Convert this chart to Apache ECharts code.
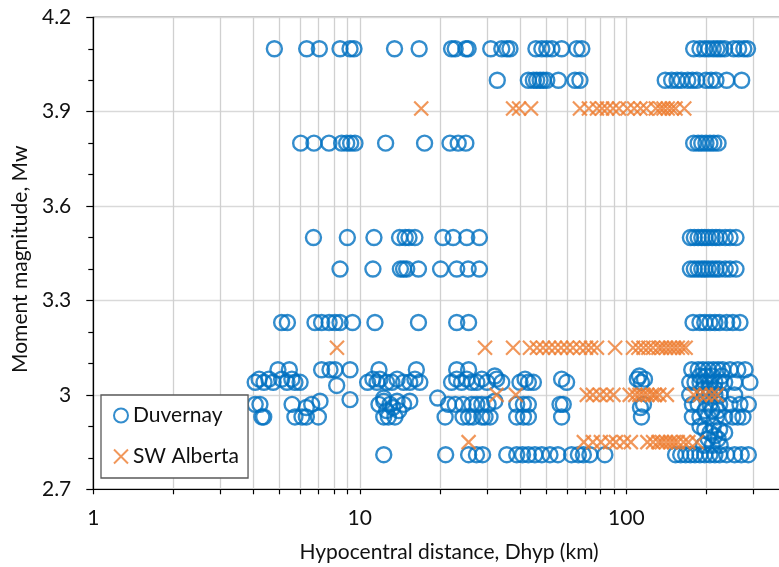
<!DOCTYPE html>
<html>
<head>
<meta charset="utf-8">
<script src="https://cdn.jsdelivr.net/npm/echarts@6/dist/echarts.min.js"></script>
<style>
  html, body { margin: 0; padding: 0; background: #fff; }
  #chart { width: 779px; height: 567px; }
</style>
</head>
<body>
<div id="chart"></div>
<script>
// Hypocentral distance (km) vs moment magnitude, two event groups.

// Duvernay events, [Dhyp km, Mw]
const duvernayUpper = [
  [4.78,4.1],[6.32,4.1],[7.05,4.1],[8.43,4.1],[9.19,4.1],[9.51,4.1],[13.5,4.1],[16.7,4.1],
  [22.1,4.1],[22.8,4.1],[25.0,4.1],[25.5,4.1],[31.0,4.1],[34.1,4.1],[35.6,4.1],[36.6,4.1],
  [45.8,4.1],[48.2,4.1],[50.3,4.1],[52.6,4.1],[57.2,4.1],[65.2,4.1],[68.1,4.1],
  [179,4.1],[189,4.1],[197,4.1],[204,4.1],[212,4.1],[219,4.1],[226,4.1],[234,4.1],
  [253,4.1],[264,4.1],[276,4.1],[285,4.1],
  [32.8,4.0],[42.9,4.0],[44.8,4.0],[46.1,4.0],[47.5,4.0],[48.8,4.0],[50.3,4.0],[55.6,4.0],
  [64.2,4.0],[67.0,4.0],
  [140,4.0],[148,4.0],[155,4.0],[161,4.0],[170,4.0],[177,4.0],[184,4.0],[199,4.0],
  [208,4.0],[217,4.0],[238,4.0],[271,4.0],
  [6.00,3.8],[6.73,3.8],[7.66,3.8],[8.55,3.8],[8.93,3.8],[9.24,3.8],[9.59,3.8],[12.5,3.8],
  [17.5,3.8],[21.8,3.8],[23.4,3.8],[25.0,3.8],
  [179,3.8],[186,3.8],[192,3.8],[199,3.8],[206,3.8],[213,3.8],[221,3.8]
];

const duvernayMiddle = [
  [6.70,3.5],[8.98,3.5],[11.3,3.5],[14.1,3.5],[14.8,3.5],[15.3,3.5],[16.1,3.5],[20.5,3.5],
  [22.4,3.5],[25.2,3.5],[28.1,3.5],
  [174,3.5],[180,3.5],[186,3.5],[192,3.5],[197,3.5],[203,3.5],[210,3.5],[217,3.5],
  [224,3.5],[235,3.5],[245,3.5],[258,3.5],
  [8.43,3.4],[11.2,3.4],[14.2,3.4],[14.6,3.4],[15.0,3.4],[16.6,3.4],[20.1,3.4],[23.1,3.4],
  [25.5,3.4],[28.1,3.4],
  [174,3.4],[180,3.4],[186,3.4],[192,3.4],[197,3.4],[203,3.4],[210,3.4],[217,3.4],
  [224,3.4],[235,3.4],[245,3.4],[258,3.4],
  [5.09,3.23],[5.35,3.23],[6.79,3.23],[7.19,3.23],[7.67,3.23],[8.07,3.23],[8.43,3.23],
  [9.39,3.23],[11.4,3.23],[16.6,3.23],[23.1,3.23],[25.6,3.23],
  [178,3.23],[189,3.23],[197,3.23],[206,3.23],[215,3.23],[224,3.23],[238,3.23],[251,3.23],[267,3.23]
];

const duvernayLowNear = [
  [4.93,3.08],[5.44,3.08],[7.19,3.08],[7.73,3.08],[8.07,3.08],[9.19,3.08],
  [4.05,3.04],[4.19,3.05],[4.37,3.04],[4.56,3.05],[4.73,3.04],[5.09,3.05],[5.33,3.04],
  [5.56,3.05],[5.71,3.04],[5.97,3.04],[8.19,3.03],
  [4.05,2.97],[4.22,2.97],[5.57,2.97],[6.30,2.96],[6.60,2.97],[7.09,2.98],[9.19,2.985],
  [4.29,2.93],[4.36,2.93],[5.71,2.93],[6.07,2.93],[6.30,2.93],[6.99,2.93],
  [11.8,3.08],[16.3,3.08],
  [10.7,3.04],[11.2,3.05],[11.6,3.04],[11.9,3.05],[12.6,3.04],[13.2,3.04],[13.8,3.05],
  [14.6,3.04],[15.4,3.04],[16.1,3.05],[16.8,3.04],
  [11.8,2.97],[12.3,2.98],[12.98,2.97],[13.8,2.98],[14.6,2.97],[15.4,2.98],[12.3,2.99],
  [13.3,2.96],[12.6,2.95],[14.0,2.95],
  [12.3,2.93],[13.55,2.93],[12.8,2.93],
  [12.3,2.81]
];

const duvernayLowMid = [
  [23.1,3.08],[25.6,3.08],[32.1,3.06],
  [22.1,3.04],[23.1,3.05],[24.1,3.04],[25.2,3.05],[26.3,3.04],[27.5,3.04],[28.7,3.05],
  [30.0,3.04],[32.6,3.05],[34.1,3.04],[39.9,3.04],[41.7,3.05],[42.9,3.04],[44.8,3.04],
  [57.2,3.05],[59.7,3.04],
  [19.6,2.99],
  [21.5,2.97],[22.8,2.97],[24.4,2.97],[26.3,2.97],[27.5,2.97],[28.7,2.97],[30.3,2.97],
  [32.1,2.98],[38.8,2.97],[41.1,2.97],[42.9,2.97],[56.4,2.97],[58.0,2.97],
  [20.9,2.93],[24.4,2.93],[25.6,2.93],[26.6,2.93],[28.7,2.93],[29.5,2.93],[30.8,2.93],
  [38.8,2.93],[41.1,2.93],[42.9,2.93],[57.2,2.93],
  [21.0,2.81],[25.6,2.81],[27.4,2.81],[28.9,2.81],[35.6,2.81],[38.8,2.81],[40.8,2.81],
  [42.9,2.81],[45.4,2.81],[48.2,2.81],[51.7,2.81],[55.4,2.81],[62.3,2.81],[66.1,2.81],
  [69.0,2.81],[73.0,2.81],[83.1,2.81],
  [110,3.05],[114,3.04],[117,3.05],[112,3.06],[116,2.97],[114,2.93],[113,2.96]
];

const duvernayLowFar = [
  [176,3.08],[186,3.08],[194,3.08],[203,3.08],[212,3.08],[221,3.08],[230,3.08],[245,3.08],
  [262,3.08],[279,3.08],
  [189,3.06],[200,3.06],[210,3.06],[228,3.06],
  [173,3.04],[181,3.04],[189,3.04],[197,3.04],[206,3.04],[215,3.04],[224,3.04],[234,3.04],
  [255,3.04],[291,3.04],
  [195,3.02],[205,3.02],[215,3.02],
  [173,3.0],[197,3.0],[205,3.0],[215,3.0],[225,3.0],[255,3.0],
  [177,2.97],[186,2.97],[206,2.97],[224,2.97],[245,2.97],[267,2.97],[287,2.97],
  [197,2.95],[210,2.95],[221,2.95],
  [177,2.93],[189,2.93],[203,2.93],[218,2.93],[234,2.93],[251,2.93],[262,2.93],[274,2.93],
  [189,2.90],[212,2.90],[197,2.89],[224,2.89],[206,2.88],[234,2.88],[215,2.87],
  [203,2.86],[221,2.86],[195,2.84],[210,2.84],[225,2.84],
  [153,2.81],[160,2.81],[167,2.81],[174,2.81],[181,2.81],[189,2.81],[197,2.81],[206,2.81],
  [215,2.81],[224,2.81],[238,2.81],[255,2.81],[270,2.81],[287,2.81]
];

// SW Alberta events, [Dhyp km, Mw]
const albertaUpper = [
  [17.0,3.91],[37.6,3.91],[39.6,3.91],[43.9,3.91],[67.0,3.91],[72.4,3.91],[77.6,3.91],
  [81.1,3.91],[84.7,3.91],[89.2,3.91],[93.9,3.91],[101,3.91],[107,3.91],[113,3.91],
  [119,3.91],[129,3.91],[134,3.91],[138,3.91],[143,3.91],[148,3.91],[153,3.91],[165,3.91],
  [8.21,3.15],[29.5,3.15],[37.6,3.15],[43.5,3.15],[46.2,3.15],[48.7,3.15],[51.3,3.15],
  [54.0,3.15],[56.9,3.15],[59.9,3.15],[63.1,3.15],[67.0,3.15],[70.6,3.15],[73.8,3.15],
  [77.6,3.15],[90.8,3.15],[106,3.15],[111,3.15],[116,3.15],[121,3.15],[126,3.15],
  [132,3.15],[136,3.15],[141,3.15],[146,3.15],[151,3.15],[156,3.15],[162,3.15],[167,3.15]
];

const albertaLower = [
  [32.6,3.0],[38.5,3.0],[71.1,3.0],[74.9,3.0],[79.6,3.0],[84.5,3.0],[89.5,3.0],[103,3.0],
  [108,3.0],[112,3.0],[116,3.0],[120,3.0],[125,3.0],[128,3.0],[133,3.0],[142,3.0],
  [179,3.0],[189,3.0],[199,3.0],[210,3.0],[219,3.0],
  [25.6,2.85],[69.3,2.85],[74.9,2.85],[80.3,2.85],[86.8,2.85],[91.4,2.85],[97.9,2.85],
  [104,2.85],[120,2.85],[126,2.85],[132,2.85],[136,2.85],[141,2.85],[146,2.85],
  [151,2.85],[156,2.85],[164,2.85],[171,2.85],[184,2.85]
];

// Axis ranges and labelled ticks
const xLabelValues = [1, 10, 100, 1000];
const yMin = 2.7, yMax = 4.2, yStep = 0.3;

// Every integer multiple inside each decade gets a tick and a grid line
const xTickValues = [];
for (let d = 0; d < xLabelValues.length - 1; d++) {
  for (let k = 1; k < 10; k++) xTickValues.push(k * xLabelValues[d]);
}
xTickValues.push(xLabelValues[xLabelValues.length - 1]);

const FONT = 'Lato';
const TEXT = '#111';

const chart = echarts.init(document.getElementById('chart'), null, { renderer: 'canvas' });
chart.setOption({
  animation: false,
  backgroundColor: '#fff',
  // the plot runs past the right edge of the canvas (three decades, 266.5 px each)
  grid: {
    left: 93.3, top: 17.3, height: 472, width: 799.5,
    outerBoundsMode: 'none', containLabel: false,
    show: true, borderColor: '#000', borderWidth: 1.2, backgroundColor: 'transparent'
  },
  legend: {
    orient: 'vertical',
    left: 101, top: 395,
    padding: [10, 9, 11, 12],
    itemGap: 20, itemWidth: 14, itemHeight: 14,
    backgroundColor: '#fff', borderColor: '#595959', borderWidth: 1.3,
    textStyle: { fontFamily: FONT, fontSize: 21, color: TEXT },
    data: ['Duvernay', 'SW Alberta']
  },
  xAxis: {
    type: 'log', logBase: 10, min: 1, max: 1000,
    name: 'Hypocentral distance, Dhyp (km)',
    nameLocation: 'middle', nameGap: 52,
    nameTextStyle: { fontFamily: FONT, fontSize: 21, color: TEXT, padding: [0, 88, 0, 0] },
    axisLine: { lineStyle: { color: '#000', width: 1.2 } },
    axisTick: { show: true, length: 5, customValues: xTickValues, lineStyle: { color: '#000', width: 1.2 } },
    axisLabel: { customValues: xLabelValues, margin: 18, fontFamily: FONT, fontSize: 21, color: TEXT },
    splitLine: { show: true, lineStyle: { color: '#d0d0d0', width: 1.3 } },
    minorTick: { show: false }, minorSplitLine: { show: false }
  },
  yAxis: {
    type: 'value', min: yMin, max: yMax, interval: yStep,
    name: 'Moment magnitude, Mw',
    nameLocation: 'middle', nameGap: 60,
    nameTextStyle: { fontFamily: FONT, fontSize: 21, color: TEXT, padding: [0, 12, 0, 0] },
    axisLine: { show: true, lineStyle: { color: '#000', width: 1.2 } },
    axisTick: { show: true, length: 7, lineStyle: { color: '#000', width: 1.2 } },
    minorTick: { show: true, splitNumber: 3, length: 5, lineStyle: { color: '#000', width: 1.2 } },
    axisLabel: { margin: 22, fontFamily: FONT, fontSize: 21, color: TEXT },
    splitLine: { show: true, lineStyle: { color: '#d9d9d9', width: 1.3 } }
  },
  series: [
    {
      name: 'Duvernay', type: 'scatter', symbol: 'circle', symbolSize: 15,
      itemStyle: { color: 'rgba(0,0,0,0)', borderColor: '#0070C0', borderWidth: 2.4 },
      emphasis: { disabled: true },
      data: [].concat(duvernayUpper, duvernayMiddle, duvernayLowNear, duvernayLowMid, duvernayLowFar)
    },
    {
      name: 'SW Alberta', type: 'scatter', symbol: 'path://M0,0L10,10M10,0L0,10', symbolSize: 14,
      itemStyle: { color: 'rgba(0,0,0,0)', borderColor: '#ED7D31', borderWidth: 2.2 },
      emphasis: { disabled: true },
      data: [].concat(albertaUpper, albertaLower)
    }
  ]
});
</script>
</body>
</html>
